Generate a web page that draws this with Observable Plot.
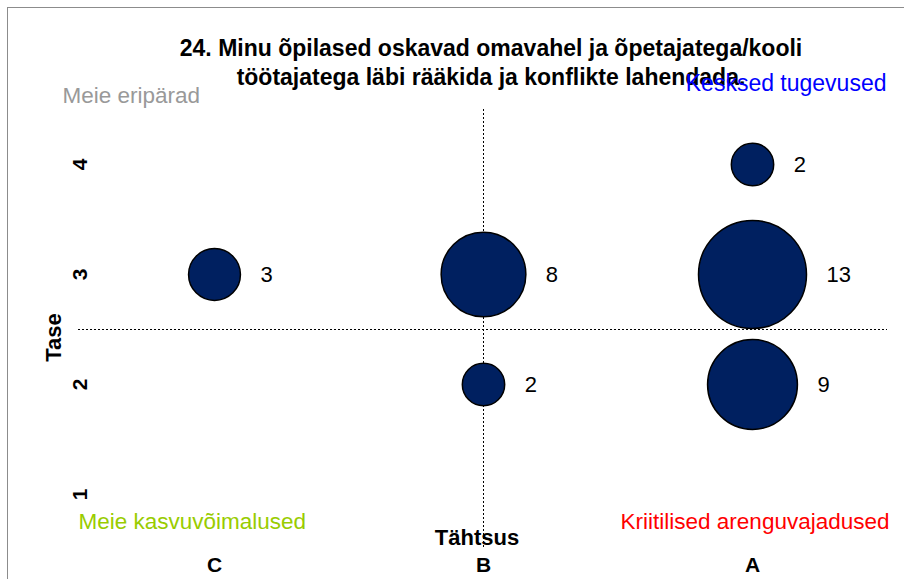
<!DOCTYPE html>
<html>
<head>
<meta charset="utf-8">
<script src="https://cdn.jsdelivr.net/npm/d3@7"></script>
<script src="https://cdn.jsdelivr.net/npm/@observablehq/plot@0.6"></script>
<style>
  html, body { margin: 0; padding: 0; background: #fff; overflow: hidden; }
  #wrap { position: relative; width: 904px; height: 579px; }
  #border { position: absolute; left: 7px; top: 7px; width: 2000px; height: 2000px; border: 1px solid #8c8c8c; pointer-events: none; }
  svg { font-family: "Liberation Sans", Arial, sans-serif; }
</style>
</head>
<body>
<div id="wrap"><div id="border"></div></div>
<script>
// ---- data ----
const categories = ["C", "B", "A"];          // Tähtsus (x)
const levels = [1, 2, 3, 4];                  // Tase (y)
const bubbleCat = ["C", "B", "B", "A", "A", "A"];
const bubbleLevel = [3, 3, 2, 4, 3, 2];
const bubbleCount = [3, 8, 2, 2, 13, 9];
const splitCategory = "B";
const splitLevel = 2.5;
const titleLines = ["24. Minu õpilased oskavad omavahel ja õpetajatega/kooli", "töötajatega läbi rääkida ja konflikte lahendada."];
const quadrantLabels = ["Meie eripärad", "Kesksed tugevused", "Meie kasvuvõimalused", "Kriitilised arenguvajadused"];

const data = bubbleCount.map((n, i) => ({cat: bubbleCat[i], level: bubbleLevel[i], n}));
const rMax = 54;
const rFallback = d3.scaleSqrt().domain([0, 13]).range([0, rMax]);

const chart = Plot.plot({
  width: 904,
  height: 579,
  marginLeft: 78,
  marginRight: 17,
  marginTop: 109,
  marginBottom: 30,
  style: {fontFamily: "'Liberation Sans', Arial, sans-serif", background: "transparent", overflow: "visible"},
  x: {type: "point", domain: categories, padding: 0.5, axis: null},
  y: {domain: [0.5, 4.5], axis: null},
  r: {type: "sqrt", domain: [0, 13], range: [0, rMax]},
  marks: [
    Plot.ruleX([splitCategory], {stroke: "#000", strokeWidth: 1, strokeDasharray: "2,2"}),
    Plot.ruleY([splitLevel], {stroke: "#000", strokeWidth: 1, strokeDasharray: "2,2"}),
    Plot.dot(data, {x: "cat", y: "level", r: "n", fill: "#002060", stroke: "#000", strokeWidth: 1.5}),
    Plot.text(data, {
      x: "cat", y: "level", text: d => String(d.n), textAnchor: "start", fontSize: 22, fill: "#000",
      render(index, scales, values, dimensions, context, next) {
        const rs = scales.r || rFallback;
        const x = Array.from(values.x, (v, i) => v + rs(data[i].n) + 20);
        return next(index, scales, {...values, x}, dimensions, context);
      }
    }),
    // title
    Plot.text([titleLines.join("\n")], {frameAnchor: "top", textAnchor: "middle", dx: 8, dy: -48, lineAnchor: "middle", lineHeight: 1.22, fontSize: 23, fontWeight: "bold", fill: "#000"}),
    // quadrant labels
    Plot.text([quadrantLabels[0]], {frameAnchor: "top-left", textAnchor: "start", lineAnchor: "middle", dx: -16, dy: -14, fontSize: 22.5, fill: "#999999"}),
    Plot.text([quadrantLabels[1]], {frameAnchor: "top-right", textAnchor: "end", lineAnchor: "middle", dx: -1, dy: -26, fontSize: 23, fill: "#0000FF"}),
    Plot.text([quadrantLabels[2]], {frameAnchor: "bottom-left", textAnchor: "start", lineAnchor: "middle", dx: 0, dy: -28, fontSize: 22.5, fill: "#99CC00"}),
    Plot.text([quadrantLabels[3]], {frameAnchor: "bottom-right", textAnchor: "end", lineAnchor: "middle", dx: 2, dy: -28, fontSize: 22.5, fill: "#FF0000"}),
    // axis titles
    Plot.text(["Tähtsus"], {frameAnchor: "bottom", textAnchor: "middle", lineAnchor: "middle", dx: -6, dy: -12, fontSize: 22, fontWeight: "bold", fill: "#000"}),
    Plot.text(["Tase"], {frameAnchor: "left", textAnchor: "middle", lineAnchor: "middle", rotate: -90, dx: -25, dy: 8, fontSize: 22, fontWeight: "bold", fill: "#000"}),
    // tick labels
    Plot.text(categories, {x: d => d, frameAnchor: "bottom", textAnchor: "middle", lineAnchor: "middle", dy: 16, fontSize: 21, fontWeight: "bold", fill: "#000"}),
    Plot.text(levels, {y: d => d, text: d => String(d), frameAnchor: "left", textAnchor: "middle", lineAnchor: "middle", rotate: -90, dx: 2, fontSize: 21, fontWeight: "bold", fill: "#000"})
  ]
});
document.getElementById("wrap").prepend(chart);
</script>
</body>
</html>
